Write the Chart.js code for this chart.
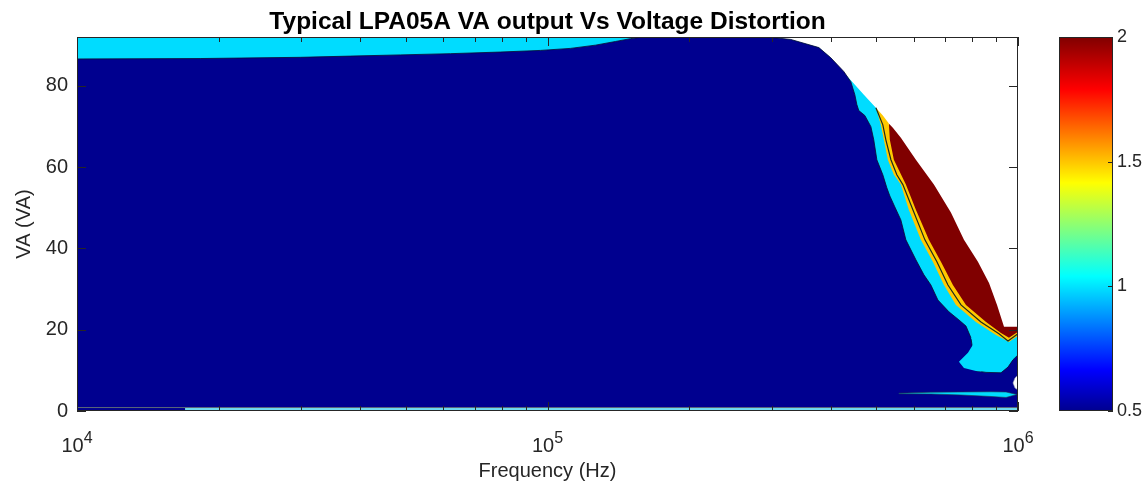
<!DOCTYPE html>
<html>
<head>
<meta charset="utf-8">
<script src="https://cdn.jsdelivr.net/npm/chart.js@4.4.1/dist/chart.umd.min.js"></script>
<style>
  html, body { margin: 0; padding: 0; background: #fff; }
  #wrap { position: relative; width: 1147px; height: 488px; }
  #main { position: absolute; left: 0; top: 0; }
  #cbar { position: absolute; left: 1059px; top: 0; }
</style>
</head>
<body>
<div id="wrap">
  <canvas id="main" width="1147" height="488"></canvas>
  <canvas id="cbar" width="88" height="488"></canvas>
</div>
<script>
var FONT = '"Liberation Sans", Arial, Helvetica, sans-serif';
var INK = '#262626';

/* axes */
var titleText = 'Typical LPA05A VA output Vs Voltage Distortion';
var xTitle = 'Frequency (Hz)';
var yTitle = 'VA (VA)';
var xMajor = [1e4, 1e5, 1e6];
var xExp = ['4', '5', '6'];
var yTicks = [0, 20, 40, 60, 80];
var cbTicks = [0.5, 1, 1.5, 2];
var cbLabels = ['0.5', '1', '1.5', '2'];

/* contour level boundaries (Hz, VA) */
var blueTopHz = [10000, 18270, 29820, 38100, 48670, 62180, 79430, 96630, 111900, 126500, 139500, 150200, 159300,
    293900, 328900, 377300, 400000, 426400, 441200, 450000, 454400, 458800, 472500, 486800, 493700, 501200,
    516100, 526300, 534100, 547300, 563700, 577700, 606700, 631000, 652900, 675700, 713200, 749000, 775200,
    794300, 813900, 855200, 920100, 952200, 975800, 1000000];
var blueTopVA = [86.6, 86.7, 87.0, 87.3, 87.6, 87.9, 88.3, 88.7, 89.2, 90.0, 90.9, 91.6, 92,
    92, 91.4, 89.4, 86.9, 83.5, 81.0, 77.8, 75.4, 73.9, 72.7, 69.95, 66.7, 61.8,
    58.1, 54.9, 52.9, 50.2, 47.0, 42.1, 37.2, 33.5, 31.0, 27.3, 24.4, 22.4, 20.9,
    18.0, 9.85, 9.5, 9.4, 10.8, 12.6, 13.8];

var cyanTopHz = [10000, 293900, 328900, 377300, 400000, 420200, 445700, 470300, 498800, 511100, 518600, 528900,
    544700, 563700, 586100, 621700, 659300, 696000, 738200, 813900, 897900, 956900, 1000000];
var cyanTopVA = [92, 92, 91.4, 89.4, 86.9, 84.0, 80.8, 77.8, 74.6, 70.4, 66.7, 61.8,
    58.1, 55.7, 49.5, 42.1, 36.7, 31.0, 26.1, 21.9, 18.7, 17.0, 18.5];

var yellowTopHz = [498800, 516100, 531600, 534100, 544700, 577700, 606700, 646500, 685800, 727300, 775200,
    855200, 920100, 956900, 1000000];
var yellowTopVA = [74.6, 72.7, 70.7, 66.7, 61.8, 55.7, 49.5, 42.1, 36.7, 31.0, 26.1, 21.9, 19.2, 18.0, 19.5];

var redTopHz = [531600, 542000, 563700, 606700, 662600, 720100, 767600, 821900, 867800, 902500, 933800, 1000000];
var redTopVA = [70.7, 69.7, 67.2, 61.8, 55.7, 48.8, 42.1, 36.7, 31.5, 26.1, 20.7, 20.7];

var lineHz = [498800, 516100, 523800, 536900, 552700, 569200, 597800, 634100, 672400, 709800, 756500,
    834200, 911000, 952200, 1000000];
var lineVA = [74.6, 70.4, 66.7, 61.8, 58.1, 55.7, 49.5, 42.1, 36.7, 31.0, 26.1, 21.9, 19.0, 17.2, 19.0];

var lobeHz = [794300, 806200, 782800, 749000, 767600, 813900, 836000, 820000];
var lobeVA = [18.0, 16.7, 14.3, 12.1, 10.6, 9.85, 9.7, 18.0];

var streakHz = [558200, 652900, 756500, 876500, 943100, 995000, 943100, 876500, 756500, 652900, 558200];
var streakVA = [4.38, 4.61, 4.68, 4.73, 4.68, 4.06, 3.33, 3.57, 3.94, 4.19, 4.24];

var holeHz = [1000000, 985400, 975800, 985400, 1000000];
var holeVA = [8.87, 8.13, 6.90, 5.67, 5.17];

var stripHz = [16970, 1000000];
var stripVA = [0.85, 0.85];
var baseHz = [10000, 1000000];
var baseVA = [0.85, 0.85];

var BLUE = '#00008F';
var CYAN = '#00DCFF';
var YELLOW = '#FFC800';
var RED = '#800000';

function pts(hz, va) {
    var out = [];
    for (var i = 0; i < hz.length; i++) {
        out.push({x: hz[i], y: va[i]});
    }
    return out;
}

function area(hz, va, color, fill, border, bw) {
    return {
        data: pts(hz, va),
        showLine: true,
        fill: fill,
        backgroundColor: color,
        borderColor: border || color,
        borderWidth: bw || 0,
        pointRadius: 0,
        tension: 0
    };
}

var axesFrame = {
    id: 'axesFrame',
    afterDatasetsDraw: function (chart) {
        var ctx = chart.ctx;
        var a = chart.chartArea;
        var xs = chart.scales.x;
        var ys = chart.scales.y;
        ctx.save();
        ctx.strokeStyle = INK;
        ctx.lineWidth = 1;
        ctx.beginPath();
        for (var d = 1e4; d < 1e6; d *= 10) {
            for (var m = 2; m <= 9; m++) {
                var px = Math.round(xs.getPixelForValue(d * m)) + 0.5;
                ctx.moveTo(px, a.bottom); ctx.lineTo(px, a.bottom - 5);
                ctx.moveTo(px, a.top); ctx.lineTo(px, a.top + 5);
            }
        }
        xMajor.forEach(function (v) {
            var px = Math.round(xs.getPixelForValue(v)) + 0.5;
            ctx.moveTo(px, a.bottom); ctx.lineTo(px, a.bottom - 9);
            ctx.moveTo(px, a.top); ctx.lineTo(px, a.top + 9);
        });
        yTicks.forEach(function (v) {
            var py = Math.round(ys.getPixelForValue(v)) + 0.5;
            ctx.moveTo(a.left, py); ctx.lineTo(a.left + 9, py);
            ctx.moveTo(a.right, py); ctx.lineTo(a.right - 9, py);
        });
        ctx.stroke();
        ctx.strokeRect(a.left + 0.5, a.top + 0.5, a.right - a.left - 1, a.bottom - a.top - 1);

        ctx.fillStyle = INK;
        ctx.font = '20px ' + FONT;
        ctx.textAlign = 'right';
        ctx.textBaseline = 'middle';
        yTicks.forEach(function (v) {
            ctx.fillText(String(v), a.left - 9, ys.getPixelForValue(v));
        });

        ctx.textBaseline = 'alphabetic';
        ctx.textAlign = 'left';
        xMajor.forEach(function (v, i) {
            ctx.font = '20px ' + FONT;
            var wb = ctx.measureText('10').width;
            ctx.font = '16px ' + FONT;
            var we = ctx.measureText(xExp[i]).width;
            var x0 = xs.getPixelForValue(v) - (wb + we) / 2;
            ctx.font = '20px ' + FONT;
            ctx.fillText('10', x0, 452);
            ctx.font = '16px ' + FONT;
            ctx.fillText(xExp[i], x0 + wb, 443);
        });

        ctx.textAlign = 'center';
        ctx.font = '20px ' + FONT;
        ctx.fillText(xTitle, (a.left + a.right) / 2, 477);
        ctx.save();
        ctx.translate(30, (a.top + a.bottom) / 2);
        ctx.rotate(-Math.PI / 2);
        ctx.fillText(yTitle, 0, 0);
        ctx.restore();

        ctx.fillStyle = '#000';
        ctx.font = 'bold 24.5px ' + FONT;
        ctx.fillText(titleText, (a.left + a.right) / 2, 29);
        ctx.restore();
    }
};

new Chart(document.getElementById('main'), {
    type: 'scatter',
    data: {
        datasets: [
            area(lineHz, lineVA, 'rgba(0,0,0,0)', false, '#1d2b1d', 1.2),
            area(holeHz, holeVA, '#ffffff', 'shape', '#9aa0b0', 0.6),
            area(streakHz, streakVA, CYAN, 'shape', '#223344', 0.6),
            area(lobeHz, lobeVA, CYAN, 'shape'),
            area(baseHz, baseVA, 'rgba(0,0,0,0)', false, '#5a6878', 1),
            area(stripHz, stripVA, '#6fdcf2', 'start'),
            area(blueTopHz, blueTopVA, BLUE, 'start', '#0a0a30', 0.8),
            area(cyanTopHz, cyanTopVA, CYAN, 'start'),
            area(yellowTopHz, yellowTopVA, YELLOW, 'start'),
            area(redTopHz, redTopVA, RED, 'start')
        ]
    },
    options: {
        responsive: false,
        animation: false,
        layout: {padding: {left: 77, top: 37, right: 129, bottom: 77}},
        plugins: {legend: {display: false}, tooltip: {enabled: false}},
        scales: {
            x: {type: 'logarithmic', min: 1e4, max: 1e6, display: false},
            y: {type: 'linear', min: 0, max: 92, display: false}
        }
    },
    plugins: [axesFrame]
});

/* colorbar */
var jetStops = [[0, '#00008F'], [0.11, '#0000FF'], [0.36, '#00FFFF'], [0.61, '#FFFF00'], [0.86, '#FF0000'], [1, '#800000']];

var cbFrame = {
    id: 'cbFrame',
    afterDatasetsDraw: function (chart) {
        var ctx = chart.ctx;
        var a = chart.chartArea;
        var ys = chart.scales.y;
        ctx.save();
        ctx.strokeStyle = INK;
        ctx.lineWidth = 1;
        ctx.beginPath();
        cbTicks.forEach(function (v) {
            var py = Math.round(ys.getPixelForValue(v)) + 0.5;
            ctx.moveTo(a.right, py); ctx.lineTo(a.right - 5, py);
        });
        ctx.stroke();
        ctx.strokeRect(a.left + 0.5, a.top + 0.5, a.right - a.left - 1, a.bottom - a.top - 1);
        ctx.fillStyle = INK;
        ctx.font = '18px ' + FONT;
        ctx.textAlign = 'left';
        ctx.textBaseline = 'middle';
        cbTicks.forEach(function (v, i) {
            ctx.fillText(cbLabels[i], a.right + 4, ys.getPixelForValue(v));
        });
        ctx.restore();
    }
};

new Chart(document.getElementById('cbar'), {
    type: 'bar',
    data: {
        labels: [''],
        datasets: [{
            data: [[0.5, 2]],
            barPercentage: 1,
            categoryPercentage: 1,
            borderWidth: 0,
            backgroundColor: function (c) {
                var area = c.chart.chartArea;
                if (!area) return '#00008F';
                var g = c.chart.ctx.createLinearGradient(0, area.bottom, 0, area.top);
                jetStops.forEach(function (s) { g.addColorStop(s[0], s[1]); });
                return g;
            }
        }]
    },
    options: {
        responsive: false,
        animation: false,
        layout: {padding: {left: 0, top: 37, right: 34, bottom: 77}},
        plugins: {legend: {display: false}, tooltip: {enabled: false}},
        scales: {
            x: {display: false},
            y: {min: 0.5, max: 2, display: false}
        }
    },
    plugins: [cbFrame]
});
</script>
</body>
</html>
